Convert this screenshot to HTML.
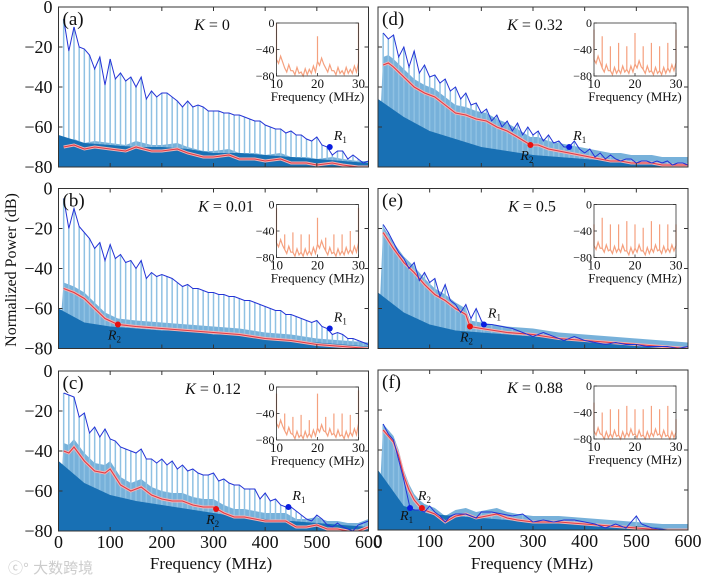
<!DOCTYPE html>
<html><head><meta charset="utf-8"><style>
html,body{margin:0;padding:0;background:#fff}
svg{display:block;font-family:"Liberation Serif",serif}
text{font-family:"Liberation Serif","Noto Serif CJK SC",serif;fill:#111}
</style></head><body>
<svg id="fig" width="701" height="578" viewBox="0 0 701 578" xmlns="http://www.w3.org/2000/svg" font-family="Liberation Serif, serif">
<text x="16" y="270" font-size="16" font-family="Liberation Serif, serif" text-anchor="middle" transform="rotate(-90 16 270)">Normalized Power (dB)</text>
<text x="211" y="569" font-size="17" font-family="Liberation Serif, serif" text-anchor="middle">Frequency (MHz)</text>
<text x="532" y="569" font-size="17" font-family="Liberation Serif, serif" text-anchor="middle">Frequency (MHz)</text>
<text x="8" y="573" font-size="15" style="fill:#ccc;font-family:'Liberation Sans','Noto Sans CJK SC',sans-serif">ⓒ° 大数跨境</text>
</svg>
<script>
// ---- data: envelope (blue), smoothed (red), dark floor, inset ----
const aEnvF=[10,20,30,40,50,60,70,80,90,100,110,120,130,140,150,160,170,180,190,200,210,220,230,240,250,260,270,280,290,300,310,320,330,340,350,360,370,380,390,400,410,420,430,440,450,460,470,480,490,500,510,520,530,540,550,560,570,580,590,600];
const aEnvV=[-6,-22,-10,-20,-21,-24,-31,-25,-39,-26,-36,-33,-37,-35,-40,-35,-46,-42,-45,-43,-43,-45,-47,-50,-47,-50,-49,-50,-52,-52,-52,-53,-53,-54,-54,-55,-56,-57,-57,-59,-60,-61,-61,-63,-62,-64,-64,-66,-67,-65,-69,-70,-74,-72,-72,-76,-74,-76,-78,-77];
const aRedF=[10,30,50,70,100,130,150,180,200,230,250,280,300,330,350,380,400,430,450,480,500,530,550,580,600];
const aRedV=[-70,-69,-71,-70,-71,-72,-70,-72,-72,-71,-73,-75,-75,-74,-76,-76,-77,-76,-78,-78,-79,-78,-79,-80,-80];
const aFloor=[-64,-68,-69,-70,-70,-71,-73,-73,-74,-75,-76,-77,-78];
const aR1=[525,-70]; const aR2=null;
const aInPkF=[10,20,30]; const aInPkV=[0,-20,0];
const aInFloor=[-55,-68,-72,-74,-70,-58,-68,-72,-72,-70,-60];

const bEnvF=aEnvF;
const bEnvV=[-5,-20,-10,-19,-22,-25,-30,-27,-36,-28,-35,-33,-37,-36,-40,-36,-45,-42,-44,-43,-44,-45,-47,-49,-48,-50,-50,-51,-52,-52,-53,-53,-54,-54,-55,-56,-56,-57,-58,-59,-60,-61,-61,-63,-63,-64,-65,-66,-67,-66,-69,-70,-73,-72,-73,-75,-75,-76,-77,-78];
const bRedF=[10,30,50,70,90,115,150,200,250,300,350,400,450,500,550,600];
const bRedV=[-50,-52,-55,-60,-65,-68,-69,-70,-71,-72,-73,-75,-76,-78,-79,-80];
const bFloor=[-60,-67,-69,-70,-71,-71,-73,-73,-75,-76,-77,-78,-79];
const bR1=[525,-70]; const bR2=[115,-68];
const bInPkF=[10,12,14,16,18,20,22,24,26,28,30]; const bInPkV=[-5,-45,-42,-45,-45,-20,-50,-45,-45,-40,-5];
const bInFloor=[-58,-68,-72,-72,-70,-60,-70,-72,-70,-68,-58];

const cEnvF=aEnvF;
const cEnvV=[-11,-12,-13,-23,-21,-31,-28,-33,-29,-34,-35,-38,-39,-40,-41,-39,-44,-44,-46,-44,-47,-45,-49,-47,-50,-49,-51,-52,-52,-51,-55,-54,-56,-57,-57,-59,-59,-59,-64,-61,-65,-64,-67,-68,-68,-70,-72,-74,-75,-72,-74,-77,-78,-76,-78,-79,-80,-77,-76,-75];
const cRedF=[10,20,30,50,70,90,100,120,140,160,180,200,220,240,260,280,300,320,340,360,380,400,420,440,460,480,500,520,540,560,580,600];
const cRedV=[-40,-41,-38,-45,-50,-51,-49,-57,-60,-58,-62,-64,-65,-65,-67,-68,-68,-71,-73,-73,-74,-75,-75,-75,-78,-78,-77,-79,-79,-80,-80,-78];
const cFloor=[-45,-56,-62,-65,-67,-69,-71,-73,-74,-75,-76,-77,-78];
const cR1=[445,-68]; const cR2=[305,-69];
const cInPkF=[10,12,14,16,18,20,22,24,26,28,30]; const cInPkV=[-10,-40,-45,-42,-50,-10,-45,-40,-40,-42,-5];
const cInFloor=[-55,-66,-72,-72,-70,-62,-68,-70,-72,-68,-55];

const dEnvF=aEnvF;
const dEnvV=[-13,-16,-14,-25,-20,-30,-22,-33,-29,-35,-34,-38,-36,-42,-40,-46,-43,-49,-48,-53,-51,-57,-54,-60,-57,-62,-58,-64,-60,-64,-62,-67,-64,-68,-67,-70,-70,-67,-71,-73,-71,-75,-73,-76,-74,-76,-77,-76,-76,-78,-77,-77,-78,-77,-78,-77,-79,-78,-78,-79];
const dRedF=[10,20,30,50,70,90,110,130,150,170,190,210,230,250,270,295,310,330,350,370,390,410,430,450,470,490,510,530,550,570,600];
const dRedV=[-29,-28,-30,-35,-40,-43,-45,-49,-53,-54,-56,-57,-60,-62,-65,-69,-69,-71,-72,-73,-74,-75,-76,-77,-77,-78,-78,-78,-79,-79,-79];
const dFloor=[-46,-55,-62,-66,-70,-72,-74,-75,-76,-77,-78,-78,-79];
const dR1=[370,-70]; const dR2=[295,-69];
const dInPkF=[10,12,14,16,18,20,22,24,26,28,30]; const dInPkV=[-10,-20,-35,-30,-35,-15,-35,-30,-35,-30,-10];
const dInFloor=[-55,-68,-72,-70,-70,-62,-70,-72,-72,-68,-60];

const eEnvF=[10,20,30,40,50,60,70,80,90,100,110,120,130,140,150,160,170,180,190,200,205,220,240,260,280,300,320,340,360,380,400,420,440,460,480,500,520,540,560,580,600];
const eEnvV=[-18,-22,-27,-32,-35,-40,-37,-46,-42,-47,-45,-54,-48,-56,-58,-62,-58,-65,-60,-66,-68,-68,-69,-70,-72,-74,-72,-74,-76,-74,-76,-77,-78,-77,-78,-78,-79,-79,-79,-80,-79];
const eRedF=[10,30,50,70,90,110,130,150,170,178,200,250,300,350,400,450,500,550,600];
const eRedV=[-22,-30,-37,-42,-48,-53,-56,-60,-63,-69,-70,-72,-73,-75,-76,-77,-78,-79,-80];
const eFloor=[-52,-62,-68,-71,-72,-73,-74,-75,-76,-77,-78,-79,-79];
const eR1=[205,-68]; const eR2=[178,-69];
const eInPkF=[10,12,14,16,18,20,22,24,26,28,30]; const eInPkV=[-30,-20,-30,-30,-25,-30,-35,-25,-30,-30,-30];
const eInFloor=[-62,-66,-68,-66,-70,-66,-70,-66,-68,-66,-62];

const fEnvF=[10,20,30,40,50,62,70,80,90,100,110,120,130,140,150,170,190,200,220,240,260,280,300,320,340,360,380,400,420,440,460,480,500,510,530,560,600];
const fEnvV=[-27,-32,-35,-45,-55,-69,-70,-70,-71,-68,-71,-73,-76,-73,-72,-72,-74,-71,-71,-72,-73,-72,-76,-75,-76,-75,-75,-76,-77,-79,-77,-79,-73,-77,-79,-80,-80];
const fRedF=[10,20,30,40,50,60,70,80,90,110,130,150,170,190,210,230,250,270,300,350,400,450,500,550,600];
const fRedV=[-30,-33,-36,-43,-53,-60,-65,-68,-70,-72,-76,-73,-72,-74,-73,-72,-74,-75,-76,-76,-77,-78,-79,-80,-80];
const fFloor=[-50,-68,-72,-73,-74,-75,-76,-76,-77,-78,-78,-79,-80];
const fR1=[62,-69]; const fR2=[85,-69];
const fInPkF=[10,12,14,16,18,20,22,24,26,28,30]; const fInPkV=[-25,-40,-35,-35,-30,-35,-35,-30,-35,-30,-50];
const fInFloor=[-68,-74,-72,-74,-70,-72,-74,-70,-72,-74,-70];

const yTicks=[0,-20,-40,-60,-80];
const xTicks=[0,100,200,300,400,500,600];
const inYTicks=[0,-40,-80];
const inXTicks=[10,20,30];

const NS="http://www.w3.org/2000/svg";
const svg=document.getElementById('fig');
const FF="Liberation Serif, serif";
function mk(tag,attrs,parent){const e=document.createElementNS(NS,tag);for(const k in attrs)e.setAttribute(k,attrs[k]);if(tag==='text')e.setAttribute('font-family',FF);(parent||svg).appendChild(e);return e;}

const panels=[
 {id:'a',x:58.5,y:7,K:'0',env:[aEnvF,aEnvV],red:[aRedF,aRedV],floor:aFloor,R1:aR1,R2:aR2,ip:[aInPkF,aInPkV],ifl:aInFloor,left:true,bottom:false,kx:212,lift:3},
 {id:'b',x:58.5,y:188.5,K:'0.01',env:[bEnvF,bEnvV],red:[bRedF,bRedV],floor:bFloor,R1:bR1,R2:bR2,ip:[bInPkF,bInPkV],ifl:bInFloor,left:true,bottom:false,kx:226,lift:3},
 {id:'c',x:58.5,y:371,K:'0.12',env:[cEnvF,cEnvV],red:[cRedF,cRedV],floor:cFloor,R1:cR1,R2:cR2,ip:[cInPkF,cInPkV],ifl:cInFloor,left:true,bottom:true,kx:213,lift:4},
 {id:'d',x:378,y:7,K:'0.32',env:[dEnvF,dEnvV],red:[dRedF,dRedV],floor:dFloor,R1:dR1,R2:dR2,ip:[dInPkF,dInPkV],ifl:dInFloor,left:false,bottom:false,kx:535,lift:4},
 {id:'e',x:378,y:188.5,K:'0.5',env:[eEnvF,eEnvV],red:[eRedF,eRedV],floor:eFloor,R1:eR1,R2:eR2,ip:[eInPkF,eInPkV],ifl:eInFloor,left:false,bottom:false,kx:532,lift:3},
 {id:'f',x:378,y:370,K:'0.88',env:[fEnvF,fEnvV],red:[fRedF,fRedV],floor:fFloor,R1:fR1,R2:fR2,ip:[fInPkF,fInPkV],ifl:fInFloor,left:false,bottom:true,kx:535,lift:3}
];
const W=310,H=160;

panels.forEach(p=>{
 const g=mk('g',{});
 
 
 const xs=f=>p.x+f/600*W;
 const ys=v=>p.y+(-v)/80*H;
 const bot=p.y+H;
 const clipId='clip'+p.id;
 const cp=mk('clipPath',{id:clipId},g);mk('rect',{x:p.x,y:p.y,width:W,height:H},cp);
 const pg=mk('g',{'clip-path':'url(#'+clipId+')'},g);
 let d='M'+xs(0)+','+bot;
 p.red[0].forEach((f,i)=>{d+=' L'+xs(f)+','+ys(p.red[1][i]+p.lift);});
 d+=' L'+xs(600)+','+bot+'Z';
 const la=mk('path',{d:d,fill:'#5fa3d4','fill-opacity':0.85},pg);
 
 
 p.env[0].forEach((f,i)=>{
  const l=mk('line',{x1:xs(f),x2:xs(f),y1:bot,y2:ys(p.env[1][i]),stroke:'#8fc1e3','stroke-width':1.5},pg);
  
  
 });
 d='M'+xs(0)+','+bot;
 p.floor.forEach((v,i)=>{d+=' L'+xs(i*50)+','+ys(v);});
 d+=' L'+xs(600)+','+bot+'Z';
 const da=mk('path',{d:d,fill:'#1870b4'},pg);
 
 
 let pts=p.red[0].map((f,i)=>xs(f)+','+ys(p.red[1][i])).join(' ');
 mk('polyline',{points:pts,fill:'none',stroke:'#f3b3b3','stroke-width':3},pg);
 const rl=mk('polyline',{points:pts,fill:'none',stroke:'#e03a45','stroke-width':1.1},pg);
 
 
 pts=p.env[0].map((f,i)=>xs(f)+','+ys(p.env[1][i])).join(' ');
 const el=mk('polyline',{points:pts,fill:'none',stroke:'#2433d6','stroke-width':1},pg);
 
 
 if(p.R1){const m=mk('circle',{cx:xs(p.R1[0]),cy:ys(p.R1[1]),r:3,fill:'#0a1ee0'},g);
  
  
  const t=mk('text',{x:xs(p.R1[0])-(p.id==='f'?10:-4),y:ys(p.R1[1])+(p.id==='f'?12:-7),'font-size':14,'font-style':'italic'},g);
  t.innerHTML='R<tspan font-size="9" font-style="normal" dy="3">1</tspan>';
  
  }
 if(p.R2){const m=mk('circle',{cx:xs(p.R2[0]),cy:ys(p.R2[1]),r:3,fill:'#e81010'},g);
  
  
  const t=mk('text',{x:xs(p.R2[0])-(p.id==='f'?4:10),y:ys(p.R2[1])+(p.id==='f'?-8:15),'font-size':14,'font-style':'italic'},g);
  t.innerHTML='R<tspan font-size="9" font-style="normal" dy="3">2</tspan>';
  
  }
 mk('rect',{x:p.x,y:p.y,width:W,height:H,fill:'none',stroke:'#333','stroke-width':1},g);
 yTicks.forEach(v=>{
  mk('line',{x1:p.x,x2:p.x+4,y1:ys(v),y2:ys(v),stroke:'#333'},g);
  mk('line',{x1:p.x+W,x2:p.x+W-4,y1:ys(v),y2:ys(v),stroke:'#333'},g);
  if(p.left){const t=mk('text',{x:p.x-6,y:ys(v)+6,'font-size':18,'text-anchor':'end'},g);
   t.textContent=v===0?'0':'\u2212'+(-v);
   
   }
 });
 xTicks.forEach(f=>{
  mk('line',{x1:xs(f),x2:xs(f),y1:p.y,y2:p.y+4,stroke:'#333'},g);
  mk('line',{x1:xs(f),x2:xs(f),y1:bot,y2:bot-4,stroke:'#333'},g);
  if(p.bottom){const t=mk('text',{x:xs(f),y:bot+17,'font-size':18,'text-anchor':'middle'},g);
   t.textContent=f;
   
   }
 });
 const pl=mk('text',{x:p.x+4,y:p.y+18,'font-size':19},g);pl.textContent='('+p.id+')';
 
 
 const kt=mk('text',{x:p.kx,y:p.y+23,'font-size':16,'text-anchor':'middle'},g);
 kt.innerHTML='<tspan font-style="italic">K</tspan> = '+p.K;
 
 
 const ix=p.x+(p.left?218:216), iy=p.y+16, iw=82, ih=53;
 const ig=mk('g',{},g);
 
 
 const ixs=f=>ix+(f-10)/20*iw, iys=v=>iy+(-v)/80*ih;
 mk('rect',{x:ix,y:iy,width:iw,height:ih,fill:'#fff'},ig);
 let ipts=[];
 p.ifl.forEach((v,i)=>{
  const f=10+i*2;
  ipts.push(ixs(f)+','+iys(v));
  const pi=p.ip[0].indexOf(f);
  if(pi>=0){ipts.push(ixs(f)+','+iys(p.ip[1][pi]));ipts.push(ixs(f)+','+iys(v));}
  if(i<p.ifl.length-1){ipts.push(ixs(f+0.5)+','+iys(v-6));ipts.push(ixs(f+1)+','+iys(v+5));ipts.push(ixs(f+1.5)+','+iys(v-4));}
 });
 const ic=mk('polyline',{points:ipts.join(' '),fill:'none',stroke:'#f5a07e','stroke-width':1.2},ig);
 
 
 mk('rect',{x:ix,y:iy,width:iw,height:ih,fill:'none',stroke:'#333','stroke-width':0.8},ig);
 inYTicks.forEach(v=>{
  mk('line',{x1:ix,x2:ix+3,y1:iys(v),y2:iys(v),stroke:'#333','stroke-width':0.8},ig);
  mk('line',{x1:ix+iw,x2:ix+iw-3,y1:iys(v),y2:iys(v),stroke:'#333','stroke-width':0.8},ig);
  const t=mk('text',{x:ix-2,y:iys(v)+4,'font-size':12,'text-anchor':'end'},ig);t.textContent=v===0?'0':'\u2212'+(-v);
 });
 inXTicks.forEach(f=>{
  mk('line',{x1:ixs(f),x2:ixs(f),y1:iy+ih,y2:iy+ih-3,stroke:'#333','stroke-width':0.8},ig);
  const t=mk('text',{x:ixs(f),y:iy+ih+12,'font-size':13,'text-anchor':'middle'},ig);t.textContent=f;
 });
 const it=mk('text',{x:ix+iw/2,y:iy+ih+25,'font-size':13,'text-anchor':'middle'},ig);it.textContent='Frequency (MHz)';
});
</script>
</body></html>
